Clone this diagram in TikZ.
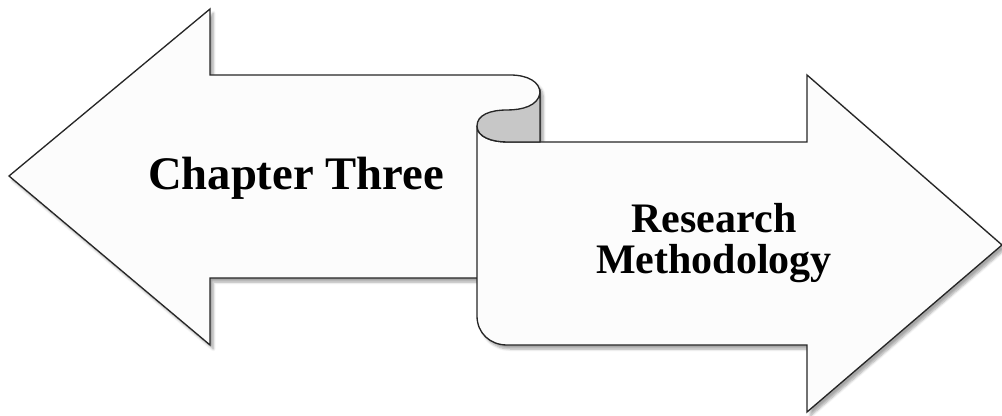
\documentclass[tikz,border=0pt]{standalone}
\usepackage{fontspec}
\setmainfont{Liberation Serif}
\usepackage{tikz}
\usetikzlibrary{shadows.blur}

\begin{document}
\begin{tikzpicture}[
    x=0.75pt, y=-0.75pt,
    arrowshape/.style={draw=black!85, line width=1pt, fill=white!99!black,
                       line join=miter,
                       blur shadow={shadow xshift=2.5pt, shadow yshift=-3pt,
                                    shadow blur steps=6, shadow opacity=35}},
    curl/.style={draw=black!85, line width=1pt, fill=black!22},
    lbl/.style={font=\bfseries\fontsize{35}{27}\selectfont, align=center, inner sep=0pt},
    sublbl/.style={font=\bfseries\fontsize{31.5}{31}\selectfont, align=center, inner sep=0pt}
]
\useasboundingbox (0,0) rectangle (1002,416);

% left arrow, its shaft ends in the scroll
\path[arrowshape] (9,176) -- (210,9) -- (210,75) -- (510,75)
    .. controls (528,75) and (540,82) .. (540,93) -- (540,278)
    -- (210,278) -- (210,345) -- cycle;

% right arrow on top
\path[arrowshape] (507,142) -- (807,142) -- (807,75) -- (1002,245)
    -- (807,412) -- (807,345) -- (507,345)
    .. controls (490,345) and (477,333) .. (477,316) -- (477,126)
    .. controls (477,137) and (492,142) .. (507,142) -- cycle;

\path[curl] (540,93) .. controls (538,106) and (522,110) .. (507,110)
    .. controls (490,110) and (477,115) .. (477,126)
    .. controls (477,137) and (492,142) .. (507,142) -- (540,142) -- cycle;

\node[lbl, anchor=base] (chap) at (296,190) {Chapter Three};
\node[sublbl, anchor=center] (meth) at (714,243) {Research\\Methodology};

\end{tikzpicture}
\end{document}
